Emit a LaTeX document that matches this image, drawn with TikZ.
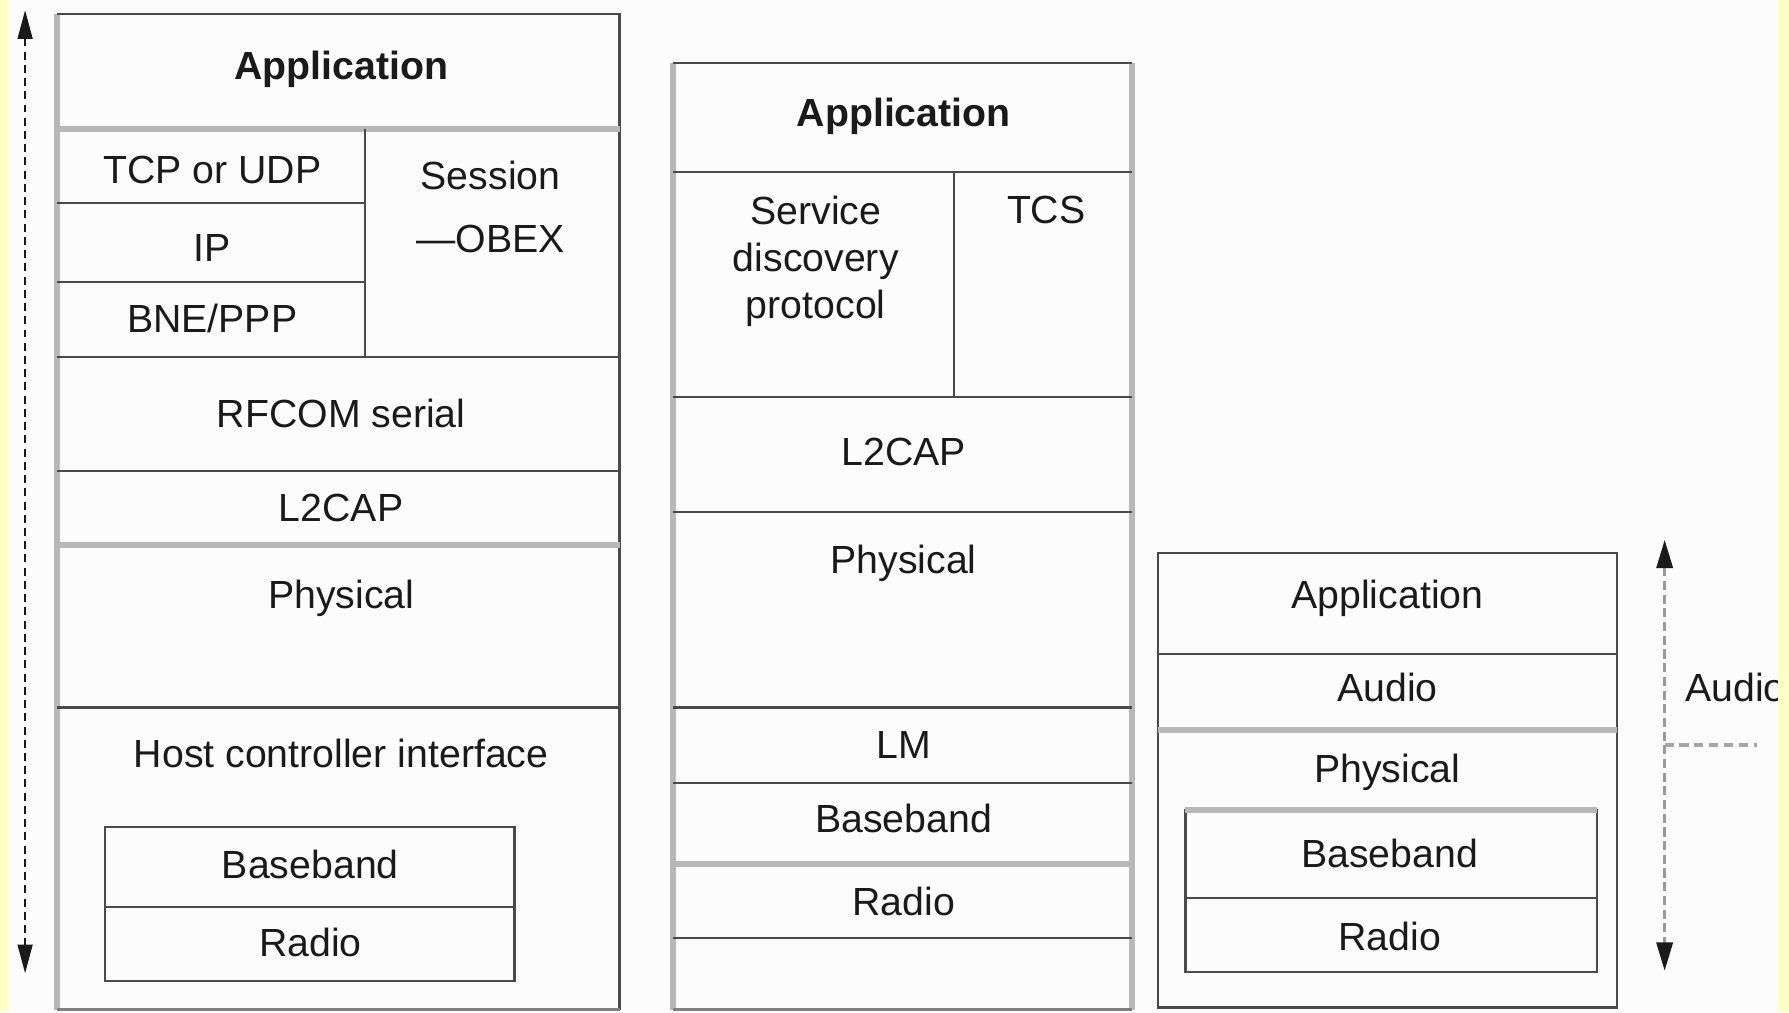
\documentclass[tikz,border=0pt]{standalone}
\usepackage{fontspec}
\setmainfont{Liberation Sans}
\usetikzlibrary{arrows.meta}
\definecolor{edge}{HTML}{4A4A4A}
\definecolor{scuff}{HTML}{B8B8B8}
\definecolor{paper}{HTML}{FCFCFC}
\definecolor{margin}{HTML}{FFFFC8}
\definecolor{ink}{HTML}{1A1A1A}
\begin{document}
\begin{tikzpicture}[x=0.5pt,y=-0.5pt,
  every node/.style={inner sep=0pt, outer sep=0pt, text=ink,
    font=\fontsize{17.2}{20.5}\selectfont},
  rule/.style={draw=edge, line width=1pt},
  heavy/.style={draw=scuff, line width=2.6pt},
  floor/.style={draw=edge!70, line width=1.2pt},
  lbl/.style={anchor=base, align=center},
  title/.style={anchor=base, font=\fontsize{17.2}{20.5}\selectfont\bfseries},
  span/.style={draw=ink, line width=0.8pt, dash pattern=on 3.5pt off 2.3pt,
    {Triangle[length=12.5pt,width=6.5pt]}-{Triangle[length=12.5pt,width=6.5pt]}},
  spangray/.style={draw=black!40, line width=1.6pt, dash pattern=on 4pt off 2pt,
    {Triangle[length=12.5pt,width=7pt,color=ink]}-{Triangle[length=12.5pt,width=7pt,color=ink]}},
  tick/.style={draw=black!35, line width=1.6pt, dash pattern=on 4pt off 2.5pt}]

\fill[paper] (0,0) rectangle (1568,887);
\useasboundingbox (0,0) rectangle (1568,887);

% ---------- left stack: host with IP / OBEX ----------
\draw[heavy] (50,12) -- (50,885);
\draw[rule] (50,12) -- (543,12) -- (543,885);
\draw[floor] (50,885) -- (543,885);
\draw[heavy] (50,113) -- (543,113);
\draw[rule] (320,113) -- (320,313);
\draw[rule] (50,178) -- (320,178);
\draw[rule] (50,247) -- (320,247);
\draw[rule] (50,313) -- (543,313);
\draw[rule] (50,413) -- (543,413);
\draw[heavy] (50,478) -- (543,478);
\draw[rule] (50,620) -- (543,620);
\draw[rule] (92,725) rectangle (451,860);
\draw[rule] (92,795) -- (451,795);

% multi-line labels sit on the baseline of their last line
\node[title] (appL) at (299,70) {Application};
\node[lbl] (tcp) at (186,161) {TCP or UDP};
\node[lbl] (ip) at (186,229) {IP};
\node[lbl] (bne) at (186,291) {BNE/PPP};
\node[lbl] (obex) at (430,221) {Session\\[7pt]—OBEX};
\node[lbl] (rfcom) at (299,375) {RFCOM serial};
\node[lbl] (l2capL) at (299,457) {L2CAP};
\node[lbl] (physL) at (299,533) {Physical};
\node[lbl] (hci) at (299,673) {Host controller interface};
\node[lbl] (bbL) at (272,770) {Baseband};
\node[lbl] (radioL) at (272,838) {Radio};

% ---------- middle stack: SDP / TCS ----------
\draw[heavy] (590,55) -- (590,885);
\draw[heavy] (992,55) -- (992,885);
\draw[rule] (590,55) -- (992,55);
\draw[rule] (590,151) -- (992,151);
\draw[rule] (836,151) -- (836,348);
\draw[rule] (590,348) -- (992,348);
\draw[rule] (590,449) -- (992,449);
\draw[rule] (590,620) -- (992,620);
\draw[rule] (590,686) -- (992,686);
\draw[heavy] (590,757) -- (992,757);
\draw[rule] (590,822) -- (992,822);
\draw[floor] (590,885) -- (992,885);

\node[title] (appM) at (792,111) {Application};
\node[lbl] (sdp) at (715,279) {Service\\discovery\\protocol};
\node[lbl] (tcs) at (917,196) {TCS};
\node[lbl] (l2capM) at (792,408) {L2CAP};
\node[lbl] (physM) at (792,503) {Physical};
\node[lbl] (lm) at (792,665) {LM};
\node[lbl] (bbM) at (792,730) {Baseband};
\node[lbl] (radioM) at (792,802) {Radio};

% ---------- right stack: audio ----------
\draw[rule] (1015,485) rectangle (1417,883);
\draw[rule] (1015,573) -- (1417,573);
\draw[heavy] (1015,640) -- (1417,640);
\draw[rule] (1039,710) rectangle (1400,852);
\draw[heavy] (1039,710) -- (1400,710);
\draw[rule] (1039,787) -- (1400,787);

\node[lbl] (appR) at (1216,533) {Application};
\node[lbl] (audio) at (1216,615) {Audio};
\node[lbl] (physR) at (1216,686) {Physical};
\node[lbl] (bbR) at (1218,760) {Baseband};
\node[lbl] (radioR) at (1218,833) {Radio};

% ---------- span arrows ----------
\coordinate (lt) at (22,9);
\coordinate (lb) at (22,853);
\draw[span] (lt) -- (lb);

\coordinate (rt) at (1459,473);
\coordinate (rb) at (1459,851);
\coordinate (rm) at (1459,653);
\coordinate (re) at (1540,653);
\draw[spangray] (rt) -- (rb);
\draw[tick] (rm) -- (re);
\node[anchor=base west] (audioSpan) at (1477,615) {Audio};

% ---------- yellow page margins ----------
\fill[margin] (0,0) rectangle (8,887);
\fill[margin] (1558,0) rectangle (1568,887);
\end{tikzpicture}
\end{document}
